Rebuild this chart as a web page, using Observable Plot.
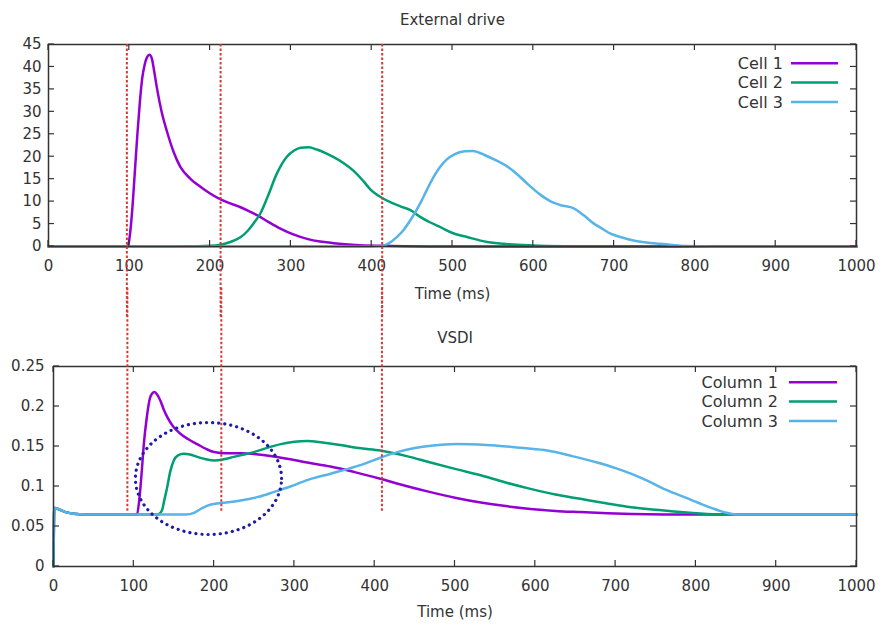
<!DOCTYPE html>
<html><head><meta charset="utf-8">
<script src="https://cdn.jsdelivr.net/npm/d3@7"></script>
<script src="https://cdn.jsdelivr.net/npm/@observablehq/plot@0.6"></script>
<style>
html,body{margin:0;padding:0;background:#fff;}
#chart{width:882px;height:624px;overflow:hidden;}
#chart svg{display:block;}
</style></head><body><div id="chart"></div>
<script>
// ---------- tick values ----------
const timeTicks = [0, 100, 200, 300, 400, 500, 600, 700, 800, 900, 1000];
const driveTicks = [0, 5, 10, 15, 20, 25, 30, 35, 40, 45];
const vsdiTicks = [0, 0.05, 0.1, 0.15, 0.2, 0.25];

// ---------- series names & colours ----------
const driveNames = ["Cell 1", "Cell 2", "Cell 3"];
const vsdiNames = ["Column 1", "Column 2", "Column 3"];
const seriesColors = ["#9400d3", "#009e73", "#56b4e9"];

// ---------- External drive ----------
const cell1Time = [0, 98, 101, 104, 107, 110, 113, 116, 119, 122, 125, 128, 131, 134.5, 140, 147, 155, 163, 175, 188, 200, 213, 225, 237, 248, 258, 272, 287, 303, 320, 336, 353, 380, 410, 440, 470, 1000];
const cell1Drive = [0, 0, 3, 9, 17, 25, 32, 37.5, 40.5, 42.2, 42.7, 41.8, 38.8, 35, 30, 25.4, 21, 17.8, 15.2, 13.3, 11.8, 10.5, 9.6, 8.8, 7.9, 7, 5.5, 4, 2.7, 1.7, 1.1, 0.75, 0.35, 0.15, 0.05, 0, 0];

const cell2Time = [0, 150, 180, 200, 213, 225, 238, 246, 254, 262, 271, 283, 295, 304, 312, 322, 332, 343, 353, 365, 378, 390, 398, 413, 425, 436, 448, 460, 472, 485, 500, 518, 543, 570, 600, 640, 680, 1000];
const cell2Drive = [0, 0, 0.05, 0.15, 0.4, 1, 2.1, 3.4, 5.2, 7.3, 11, 16.4, 20, 21.4, 22, 22.1, 21.6, 20.8, 19.9, 18.6, 16.8, 14.5, 12.8, 10.8, 9.7, 8.9, 8.1, 6.6, 5.4, 4.3, 3, 2.1, 1, 0.5, 0.25, 0.08, 0, 0];

const cell3Time = [0, 400, 413, 422, 431, 440, 448, 460, 468, 477, 485, 493, 503, 515, 525, 543, 556, 568, 580, 592, 609, 622, 634, 650, 662, 675, 685, 695, 710, 724, 740, 757, 775, 790, 820, 1000];
const cell3Drive = [0, 0, 0.1, 0.8, 2.1, 3.8, 5.9, 9.6, 12.5, 15.6, 17.8, 19.4, 20.6, 21.2, 21.3, 20.1, 19, 17.8, 16.1, 14.1, 11.5, 10, 9.2, 8.5, 7, 5.1, 4, 2.9, 2, 1.35, 0.9, 0.6, 0.3, 0.1, 0, 0];

// ---------- VSDI ----------
const col1Time = [0, 1, 8, 15, 25, 40, 104, 107, 110, 112.5, 116, 120, 123, 125.8, 129, 133, 137, 141.6, 149, 158, 168, 179, 190, 200, 215, 233, 255, 274, 295, 316, 345, 375, 407, 438, 469.5, 500, 532, 563, 594, 625, 656, 690, 720, 760, 1000];
const col1Vsdi = [0, 0.073, 0.071, 0.068, 0.066, 0.065, 0.065, 0.085, 0.12, 0.153, 0.185, 0.21, 0.2165, 0.218, 0.215, 0.2075, 0.197, 0.187, 0.175, 0.166, 0.159, 0.153, 0.147, 0.143, 0.1415, 0.1415, 0.14, 0.1375, 0.134, 0.13, 0.125, 0.118, 0.1096, 0.101, 0.093, 0.086, 0.08, 0.0755, 0.072, 0.0695, 0.068, 0.0665, 0.0655, 0.065, 0.065];

const col2Time = [0, 1, 8, 15, 25, 40, 130, 135, 138, 141.6, 145, 149.8, 155, 162, 170, 179, 190, 200, 212, 224.5, 237, 249.5, 265, 283, 300, 316, 335, 357, 380, 407, 440, 469.5, 500, 532, 563, 594, 625, 656, 688, 719, 750, 781, 810, 835, 1000];
const col2Vsdi = [0, 0.073, 0.071, 0.068, 0.066, 0.065, 0.065, 0.07, 0.083, 0.099, 0.117, 0.1325, 0.139, 0.141, 0.14, 0.137, 0.134, 0.1325, 0.134, 0.137, 0.14, 0.143, 0.148, 0.153, 0.156, 0.157, 0.155, 0.152, 0.148, 0.145, 0.138, 0.13, 0.122, 0.114, 0.105, 0.097, 0.09, 0.0846, 0.079, 0.074, 0.071, 0.068, 0.066, 0.065, 0.065];

const col3Time = [0, 1, 8, 15, 25, 40, 165, 175, 185, 196, 215, 233, 255, 274, 295, 316, 345, 370, 386, 407, 428, 450, 470, 503, 530, 553, 585, 615, 646, 677, 700, 719, 740, 760, 780, 802, 820, 835, 851, 1000];
const col3Vsdi = [0, 0.073, 0.071, 0.068, 0.066, 0.065, 0.065, 0.067, 0.073, 0.0775, 0.08, 0.0825, 0.087, 0.093, 0.1, 0.108, 0.116, 0.123, 0.128, 0.136, 0.143, 0.148, 0.151, 0.153, 0.1525, 0.151, 0.148, 0.145, 0.138, 0.13, 0.123, 0.116, 0.107, 0.097, 0.089, 0.08, 0.073, 0.068, 0.065, 0.065];

// ---------- annotations ----------
const driveMarkerTimes = [97, 213, 413];      // dotted red markers (top panel)
const vsdiMarkerTimes = [92, 209, 409];       // same markers, bottom panel
const ellipseCenterTime = 193, ellipseCenterVsdi = 0.110;
const ellipseHalfTime = 91, ellipseHalfVsdi = 0.070;

// ---------- helpers ----------
const toRows = (ts, vs) => ts.map((t, i) => ({t, v: vs[i]}));
const driveSeries = [toRows(cell1Time, cell1Drive), toRows(cell2Time, cell2Drive), toRows(cell3Time, cell3Drive)];
const vsdiSeries = [toRows(col1Time, col1Vsdi), toRows(col2Time, col2Vsdi), toRows(col3Time, col3Vsdi)];

const ellipse = d3.range(0, 181).map(i => {
  const a = (i / 180) * 2 * Math.PI;
  return {t: ellipseCenterTime + ellipseHalfTime * Math.cos(a), v: ellipseCenterVsdi + ellipseHalfVsdi * Math.sin(a)};
});

// inward mirror ticks on all four sides of the frame
function frameTicks(xTicks, yTicks, xDomain, yDomain, len) {
  return (index, scales, values, dims) => {
    const {width, height, marginLeft, marginRight, marginTop, marginBottom} = dims;
    const x = d3.scaleLinear(xDomain, [marginLeft, width - marginRight]);
    const y = d3.scaleLinear(yDomain, [height - marginBottom, marginTop]);
    const g = d3.create("svg:g").attr("stroke", "#333").attr("stroke-width", 1.2);
    for (const t of xTicks) {
      const px = x(t);
      g.append("line").attr("x1", px).attr("x2", px).attr("y1", height - marginBottom).attr("y2", height - marginBottom - len);
      g.append("line").attr("x1", px).attr("x2", px).attr("y1", marginTop).attr("y2", marginTop + len);
    }
    for (const v of yTicks) {
      const py = y(v);
      g.append("line").attr("x1", marginLeft).attr("x2", marginLeft + len).attr("y1", py).attr("y2", py);
      g.append("line").attr("x1", width - marginRight).attr("x2", width - marginRight - len).attr("y1", py).attr("y2", py);
    }
    return g.node();
  };
}

// gnuplot-style key in the top-right corner of the frame
function keyBox(names, colors, textRight, lineLeft, lineRight, firstRow, rowStep) {
  return (index, scales, values, dims) => {
    const {width, marginRight, marginTop} = dims;
    const right = width - marginRight;
    const g = d3.create("svg:g");
    names.forEach((n, i) => {
      const yy = marginTop + firstRow + i * rowStep;
      g.append("text").attr("x", right - textRight).attr("y", yy).attr("dy", "0.35em")
        .attr("text-anchor", "end").attr("fill", "#333").attr("font-size", 16).text(n);
      g.append("line").attr("x1", right - lineLeft).attr("x2", right - lineRight).attr("y1", yy).attr("y2", yy)
        .attr("stroke", colors[i]).attr("stroke-width", 2.5);
    });
    return g.node();
  };
}

const baseStyle = {fontFamily: "DejaVu Sans", fontSize: "15px", color: "#333", background: "white", overflow: "visible"};
const plainNumber = d => `${d}`;

const topPlot = Plot.plot({
  width: 882, height: 312,
  marginLeft: 48, marginRight: 26, marginTop: 44, marginBottom: 66,
  style: baseStyle,
  x: {domain: [0, 1000], nice: false},
  y: {domain: [0, 45], nice: false},
  marks: [
    ...driveSeries.map((s, i) => Plot.line(s, {x: "t", y: "v", stroke: seriesColors[i], strokeWidth: 2.5, curve: "monotone-x"})),
    Plot.frame({stroke: "#333", strokeWidth: 1.5}),
    frameTicks(timeTicks, driveTicks, [0, 1000], [0, 45], 6),
    Plot.axisX(timeTicks, {tickSize: 0, tickPadding: 14, label: null, tickFormat: plainNumber, fill: "#333"}),
    Plot.axisY(driveTicks, {tickSize: 0, tickPadding: 7, label: null, tickFormat: plainNumber, fill: "#333"}),
    Plot.ruleX(driveMarkerTimes, {x: d => d, y1: 45, y2: -16, stroke: "#d23a3a", strokeWidth: 2, strokeDasharray: "2.5,2"}),
    Plot.text(["External drive"], {frameAnchor: "top", dy: -30, fill: "#333"}),
    Plot.text(["Time (ms)"], {frameAnchor: "bottom", dy: 52, fill: "#333"}),
    keyBox(driveNames, seriesColors, 73, 65, 18, 19.3, 19.3)
  ]
});

const bottomPlot = Plot.plot({
  width: 882, height: 312,
  marginLeft: 53, marginRight: 26, marginTop: 54, marginBottom: 58,
  style: baseStyle,
  x: {domain: [0, 1000], nice: false},
  y: {domain: [0, 0.25], nice: false},
  marks: [
    ...vsdiSeries.map((s, i) => Plot.line(s, {x: "t", y: "v", stroke: seriesColors[i], strokeWidth: 2.5, curve: "monotone-x"})),
    Plot.frame({stroke: "#333", strokeWidth: 1.5}),
    frameTicks(timeTicks, vsdiTicks, [0, 1000], [0, 0.25], 6),
    Plot.axisX(timeTicks, {tickSize: 0, tickPadding: 14, label: null, tickFormat: plainNumber, fill: "#333"}),
    Plot.axisY(vsdiTicks, {tickSize: 0, tickPadding: 9, label: null, tickFormat: plainNumber, fill: "#333"}),
    Plot.ruleX(vsdiMarkerTimes, {x: d => d, y1: 0.069, y2: 0.35, stroke: "#d23a3a", strokeWidth: 2, strokeDasharray: "2.5,2"}),
    Plot.line(ellipse, {x: "t", y: "v", stroke: "#1c1ca8", strokeWidth: 3.2, strokeDasharray: "0.1,6", strokeLinecap: "round", curve: "linear-closed"}),
    Plot.text(["VSDI"], {frameAnchor: "top", dy: -34, fill: "#333"}),
    Plot.text(["Time (ms)"], {frameAnchor: "bottom", dy: 50, fill: "#333"}),
    keyBox(vsdiNames, seriesColors, 78, 67, 19, 16.3, 19.3)
  ]
});

const chart = document.getElementById("chart");
chart.appendChild(topPlot);
chart.appendChild(bottomPlot);
</script>
</body></html>
